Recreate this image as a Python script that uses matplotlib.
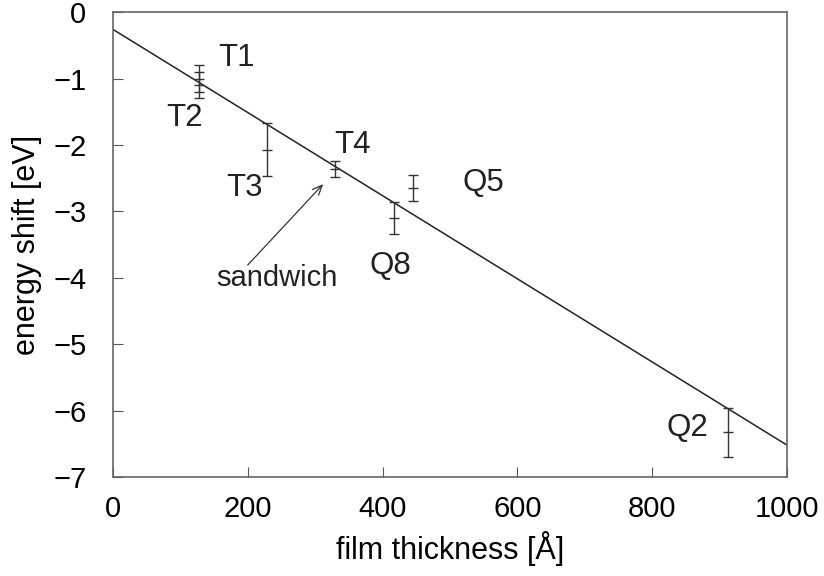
import matplotlib.pyplot as plt

plt.rcParams['font.family'] = ['Liberation Sans', 'DejaVu Sans']

# measured samples
names = ["T1", "T2", "T3", "T4", "Q5", "Q8", "Q2"]
thickness = [128, 128, 228, 329, 445, 417, 912]
shift = [-1.0, -1.1, -2.07, -2.36, -2.65, -3.1, -6.33]
err = [0.2, 0.2, 0.4, 0.12, 0.19, 0.24, 0.37]

# label positions (data coords)
label_x = [184, 107, 196, 355, 549, 411, 853]
label_y = [-0.69, -1.6, -2.65, -2.0, -2.58, -3.82, -6.27]

# linear fit
fit_x = [0, 1000]
fit_y = [-0.26, -6.52]

fig = plt.figure(figsize=(8.24, 5.76), dpi=100)
ax = fig.add_axes([0.137, 0.172, 0.818, 0.807])

ax.plot(fit_x, fit_y, color="#222222", lw=1.1)
ax.errorbar(thickness, shift, yerr=err, fmt="_", ms=7, color="#333333",
            ecolor="#333333", elinewidth=1.0, capsize=3.5, capthick=1.0)

for n, lx, ly in zip(names, label_x, label_y):
    ax.text(lx, ly, n, fontsize=22.5, ha="center", va="center", color="#222222")

# sandwich note with arrow
ax.text(243, -4.0, "sandwich", fontsize=21, ha="center", va="center",
        color="#222222")
ax.annotate("", xy=(312, -2.59), xytext=(200, -3.81),
            arrowprops=dict(arrowstyle="->,head_length=0.7,head_width=0.3",
                            color="#333333", lw=0.9, shrinkA=0, shrinkB=0))

ax.set_xlim(0, 1000)
ax.set_ylim(-7, 0)
ax.set_xticks([0, 200, 400, 600, 800, 1000])
ax.set_yticks(range(-7, 1))
ax.tick_params(direction="in", length=7, width=0.8, color="#555555",
               labelsize=21)
ax.tick_params(axis="x", pad=13)
ax.tick_params(axis="y", pad=19)
for s in ax.spines.values():
    s.set_color("#666666")
    s.set_linewidth(1.2)

ax.set_xlabel("film thickness [Å]", fontsize=22, labelpad=6)
ax.set_ylabel("energy shift [eV]", fontsize=22, labelpad=8)

plt.savefig("out.png", dpi=100)
